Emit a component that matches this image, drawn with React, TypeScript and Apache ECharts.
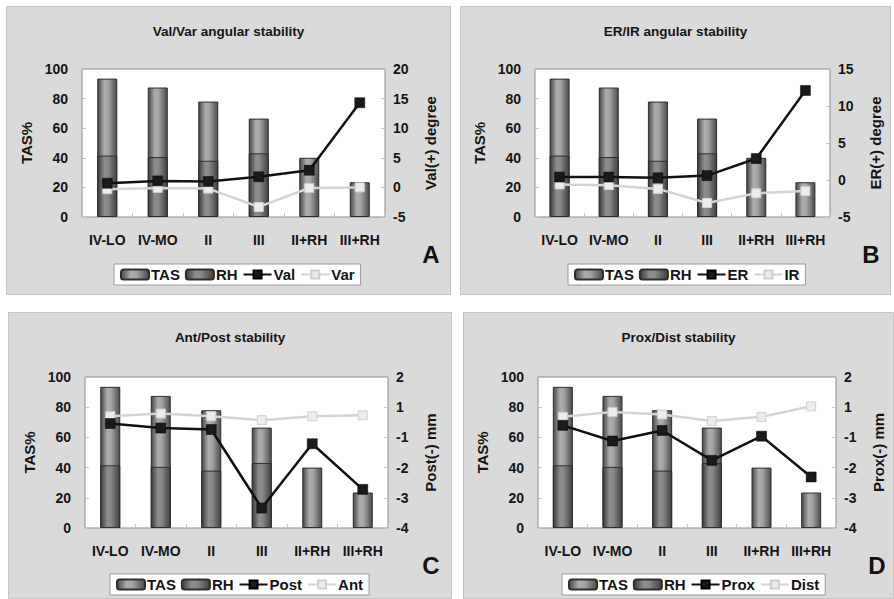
import React, { useEffect, useRef } from "react";
import * as echarts from "echarts";

// ---------- data ----------
const CATEGORIES = ["IV-LO", "IV-MO", "II", "III", "II+RH", "III+RH"];
const TAS = [93.5, 87.5, 78, 66.5, 40, 23.5];
const RH = [41.5, 40.5, 38, 43, null, null];

const VAL = [0.7, 1.1, 1.0, 1.8, 2.9, 14.3];
const VAR = [-0.3, -0.1, -0.2, -3.3, -0.1, 0];

const ER = [0.4, 0.4, 0.3, 0.6, 2.9, 12.1];
const IR = [-0.6, -0.7, -1.2, -3.1, -1.8, -1.5];

// C / D right axes are plotted on a -4..1 scale whose tick labels read -4,-3,-2,-1,1,2
const POST = [-0.54, -0.69, -0.74, -3.34, -1.21, -2.72];
const ANT = [-0.3, -0.21, -0.3, -0.43, -0.3, -0.27];
const PROX = [-0.6, -1.12, -0.77, -1.76, -0.96, -2.31];
const DIST = [-0.32, -0.16, -0.24, -0.46, -0.32, 0.03];

const RIGHT_LABELS_CD = ["-4", "-3", "-2", "-1", "1", "2"];

// ---------- style ----------
const FONT = "'Liberation Sans Narrow', 'Liberation Sans', Arial, sans-serif";
const TXT = "#151515";

const tasGrad = new echarts.graphic.LinearGradient(0, 0, 1, 0, [
  { offset: 0, color: "#474747" },
  { offset: 0.35, color: "#adadad" },
  { offset: 0.55, color: "#a4a4a4" },
  { offset: 1, color: "#4c4c4c" },
]);
const rhGrad = new echarts.graphic.LinearGradient(0, 0, 1, 0, [
  { offset: 0, color: "#3a3a3a" },
  { offset: 0.35, color: "#8e8e8e" },
  { offset: 0.55, color: "#878787" },
  { offset: 1, color: "#404040" },
]);

type PanelSpec = {
  box: { left: number; top: number; width: number; height: number };
  grid: { left: number; right: number; top: number; bottom: number };
  nameGaps: [number, number];
  title: string;
  letter: string;
  letterPos: [number, number];
  legendPos: [number, number];
  rightName: string;
  rightMin: number;
  rightMax: number;
  rightInterval: number;
  rightLabels?: string[];
  dark: { name: string; data: (number | null)[] };
  light: { name: string; data: (number | null)[] };
};

const PANELS: PanelSpec[] = [
  {
    box: { left: 6, top: 6, width: 445, height: 289 },
    grid: { left: 76, right: 66, top: 63, bottom: 78 },
    nameGaps: [46, 38],
    title: "Val/Var angular stability",
    letter: "A",
    letterPos: [425, 248],
    legendPos: [108, 258],
    rightName: "Val(+) degree",
    rightMin: -5,
    rightMax: 20,
    rightInterval: 5,
    dark: { name: "Val", data: VAL },
    light: { name: "Var", data: VAR },
  },
  {
    box: { left: 460, top: 6, width: 431, height: 289 },
    grid: { left: 75, right: 56, top: 63, bottom: 78 },
    nameGaps: [46, 38],
    title: "ER/IR angular stability",
    letter: "B",
    letterPos: [411, 248],
    legendPos: [108, 258],
    rightName: "ER(+) degree",
    rightMin: -5,
    rightMax: 15,
    rightInterval: 5,
    dark: { name: "ER", data: ER },
    light: { name: "IR", data: IR },
  },
  {
    box: { left: 8, top: 312, width: 444, height: 287 },
    grid: { left: 77, right: 64, top: 65, bottom: 71 },
    nameGaps: [48, 35],
    title: "Ant/Post stability",
    letter: "C",
    letterPos: [423, 253],
    legendPos: [102, 262],
    rightName: "Post(-) mm",
    rightMin: -4,
    rightMax: 1,
    rightInterval: 1,
    rightLabels: RIGHT_LABELS_CD,
    dark: { name: "Post", data: POST },
    light: { name: "Ant", data: ANT },
  },
  {
    box: { left: 463, top: 312, width: 431, height: 287 },
    grid: { left: 75, right: 52, top: 65, bottom: 71 },
    nameGaps: [47, 35],
    title: "Prox/Dist stability",
    letter: "D",
    letterPos: [414, 253],
    legendPos: [99, 262],
    rightName: "Prox(-) mm",
    rightMin: -4,
    rightMax: 1,
    rightInterval: 1,
    rightLabels: RIGHT_LABELS_CD,
    dark: { name: "Prox", data: PROX },
    light: { name: "Dist", data: DIST },
  },
];

function buildOption(p: PanelSpec): any {
  const labelStyle = { fontFamily: FONT, fontWeight: "bold", fontSize: 14, color: TXT };
  return {
    animation: false,
    backgroundColor: "transparent",
    textStyle: { fontFamily: FONT },
    title: {
      text: p.title,
      left: "center",
      top: 13,
      textStyle: { fontFamily: FONT, fontWeight: "bold", fontSize: 13.5, color: TXT },
    },
    legend: {
      left: p.legendPos[0],
      top: p.legendPos[1],
      data: ["TAS", "RH", p.dark.name, p.light.name],
      backgroundColor: "#ffffff",
      borderColor: "#9a9a9a",
      borderWidth: 1,
      padding: [3, 6, 3, 6],
      itemGap: 5,
      itemWidth: 28,
      itemHeight: 10,
      textStyle: { fontFamily: FONT, fontWeight: "bold", fontSize: 15, color: TXT, padding: [0, 0, 0, -3] },
    },
    grid: {
      ...p.grid,
      show: true,
      backgroundColor: "#ffffff",
      borderColor: "#8c8c8c",
      borderWidth: 1,
    },
    xAxis: {
      type: "category",
      data: CATEGORIES,
      axisLine: { show: false },
      axisTick: { show: true, inside: true, length: 4, lineStyle: { color: "#c4c4c4" } },
      axisLabel: { ...labelStyle, fontSize: 14, margin: 16, interval: 0 },
      splitLine: { show: false },
    },
    yAxis: [
      {
        type: "value",
        min: 0,
        max: 100,
        interval: 20,
        name: "TAS%",
        nameLocation: "middle",
        nameRotate: 90,
        nameGap: p.nameGaps[0],
        nameTextStyle: { ...labelStyle, fontSize: 15 },
        axisLine: { show: false },
        axisTick: { show: true, inside: true, length: 4, lineStyle: { color: "#c4c4c4" } },
        axisLabel: { ...labelStyle, margin: 14 },
        splitLine: { show: false },
      },
      {
        type: "value",
        position: "right",
        min: p.rightMin,
        max: p.rightMax,
        interval: p.rightInterval,
        name: p.rightName,
        nameLocation: "middle",
        nameRotate: 90,
        nameGap: p.nameGaps[1],
        nameTextStyle: { ...labelStyle, fontSize: 15 },
        axisLine: { show: false },
        axisTick: { show: true, inside: true, length: 4, lineStyle: { color: "#c4c4c4" } },
        axisLabel: {
          ...labelStyle,
          margin: 8,
          formatter: (v: number) => {
            if (!p.rightLabels) return String(v);
            const i = Math.round((v - p.rightMin) / p.rightInterval);
            return p.rightLabels[i] ?? "";
          },
        },
        splitLine: { show: false },
      },
    ],
    series: [
      {
        name: "TAS",
        type: "bar",
        data: TAS,
        barWidth: 20,
        barGap: "-100%",
        itemStyle: { color: tasGrad, borderColor: "#2e2e2e", borderWidth: 1 },
      },
      {
        name: "RH",
        type: "bar",
        data: RH,
        barWidth: 20,
        barGap: "-100%",
        itemStyle: { color: rhGrad, borderColor: "#2e2e2e", borderWidth: 1 },
      },
      {
        name: p.dark.name,
        type: "line",
        yAxisIndex: 1,
        data: p.dark.data,
        symbol: "rect",
        symbolSize: 10,
        lineStyle: { color: "#111111", width: 2.5 },
        itemStyle: { color: "#1a1a1a", borderColor: "#000", borderWidth: 0.5 },
        z: 4,
      },
      {
        name: p.light.name,
        type: "line",
        yAxisIndex: 1,
        data: p.light.data,
        symbol: "rect",
        symbolSize: 9,
        lineStyle: { color: "#d4d4d4", width: 2.5 },
        itemStyle: { color: "#ececec", borderColor: "#d0d0d0", borderWidth: 1 },
        z: 3,
      },
    ],
    graphic: [
      {
        type: "text",
        x: p.letterPos[0],
        y: p.letterPos[1],
        style: {
          text: p.letter,
          fontFamily: "'Liberation Sans', Arial, sans-serif",
          fontWeight: 900,
          fontSize: 24,
          fill: "#111",
          align: "center",
          verticalAlign: "middle",
        },
      },
    ],
  };
}

function Panel({ spec }: { spec: PanelSpec }) {
  const ref = useRef<HTMLDivElement>(null);
  useEffect(() => {
    if (!ref.current) return;
    const chart = echarts.init(ref.current, undefined, { renderer: "svg" });
    chart.setOption(buildOption(spec));
    return () => chart.dispose();
  }, [spec]);
  const { left, top, width, height } = spec.box;
  return (
    <div
      style={{
        position: "absolute",
        left,
        top,
        width,
        height,
        background: "#dadada",
        boxShadow: "inset 0 0 0 1px #c6c6c6",
      }}
    >
      <div ref={ref} style={{ width, height }} />
    </div>
  );
}

export default function App() {
  return (
    <div
      style={{
        position: "absolute",
        left: 0,
        top: 0,
        width: 894,
        height: 599,
        background: "#ffffff",
        overflow: "hidden",
      }}
    >
      {PANELS.map((p) => (
        <Panel key={p.letter} spec={p} />
      ))}
    </div>
  );
}
